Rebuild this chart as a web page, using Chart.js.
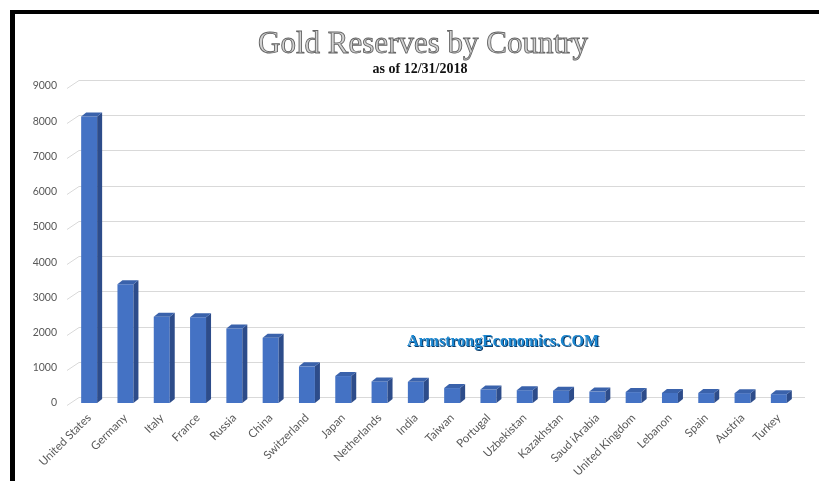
<!DOCTYPE html>
<html>
<head>
<meta charset="utf-8">
<script src="https://cdn.jsdelivr.net/npm/chart.js@4"></script>
<style>
  html, body { margin: 0; padding: 0; background: #fff; }
  #frame {
    position: absolute; left: 10px; top: 10px;
    width: 809px; height: 471px;
    border-top: 4px solid #000; border-left: 5px solid #000;
    background: #fff;
  }
  #canvas { display: block; }
</style>
</head>
<body>
<div id="frame"><canvas id="canvas" width="804" height="467"></canvas></div>
<script>
const countries = ['United States', 'Germany', 'Italy', 'France', 'Russia', 'China', 'Switzerland', 'Japan',
  'Netherlands', 'India', 'Taiwan', 'Portugal', 'Uzbekistan', 'Kazakhstan', 'Saud iArabia',
  'United Kingdom', 'Lebanon', 'Spain', 'Austria', 'Turkey']
const tonnes = [8133, 3370, 2452, 2436, 2113, 1852, 1040, 765, 612, 600, 424, 382, 363, 350, 323, 310, 287, 282, 280, 250]
const yTicks = [0, 1000, 2000, 3000, 4000, 5000, 6000, 7000, 8000, 9000]

const TITLE = 'Gold Reserves by Country'
const SUBTITLE = 'as of 12/31/2018'
const WATERMARK = 'ArmstrongEconomics.COM'

// back wall gridlines with the little diagonal stub on the left (3D look)
const backGrid = {
  id: 'backGrid',
  beforeDatasetsDraw(chart) {
    const ctx = chart.ctx
    const y = chart.scales.y
    const area = chart.chartArea
    ctx.save()
    ctx.strokeStyle = '#d9d9d9'
    ctx.lineWidth = 1
    yTicks.forEach(v => {
      const py = Math.round(y.getPixelForValue(v)) + 0.5
      ctx.beginPath()
      ctx.moveTo(area.left - 4, py + 2)
      ctx.lineTo(area.left + 8, py - 6)
      ctx.lineTo(area.right + 8, py - 6)
      ctx.stroke()
    })
    ctx.restore()
  }
}

// side + top faces for each bar
const bar3d = {
  id: 'bar3d',
  afterDatasetsDraw(chart) {
    const ctx = chart.ctx
    const dx = 5, dy = 4
    const meta = chart.getDatasetMeta(0)
    ctx.save()
    meta.data.forEach(bar => {
      const l = bar.x - bar.width / 2
      const r = bar.x + bar.width / 2
      ctx.fillStyle = '#2d4c8a'
      ctx.beginPath()
      ctx.moveTo(r, bar.y)
      ctx.lineTo(r + dx, bar.y - dy)
      ctx.lineTo(r + dx, bar.base - dy)
      ctx.lineTo(r, bar.base)
      ctx.closePath()
      ctx.fill()
      ctx.fillStyle = '#3a62ab'
      ctx.beginPath()
      ctx.moveTo(l, bar.y)
      ctx.lineTo(l + dx, bar.y - dy)
      ctx.lineTo(r + dx, bar.y - dy)
      ctx.lineTo(r, bar.y)
      ctx.closePath()
      ctx.fill()
    })
    ctx.restore()
  }
}

// titles and watermark text
const texts = {
  id: 'texts',
  afterDraw(chart) {
    const ctx = chart.ctx
    ctx.save()
    ctx.textAlign = 'center'
    ctx.textBaseline = 'alphabetic'
    ctx.font = '31px "Liberation Serif", serif'
    ctx.fillStyle = '#d2d2d2'
    ctx.strokeStyle = '#666'
    ctx.lineWidth = 0.9
    ctx.fillText(TITLE, 408, 39)
    ctx.strokeText(TITLE, 408, 39)

    ctx.font = 'bold 14px "Liberation Serif", serif'
    ctx.fillStyle = '#111'
    ctx.fillText(SUBTITLE, 405, 59)

    ctx.font = 'bold 16px "Liberation Serif", serif'
    ctx.fillStyle = '#0b3a66'
    ctx.fillText(WATERMARK, 489, 333)
    ctx.fillStyle = '#1a86d0'
    ctx.fillText(WATERMARK, 488, 332)
    ctx.restore()
  }
}

new Chart(document.getElementById('canvas'), {
  type: 'bar',
  data: {
    labels: countries,
    datasets: [{
      data: tonnes,
      backgroundColor: '#4472c4',
      borderWidth: 0,
      barPercentage: 0.44,
      categoryPercentage: 1
    }]
  },
  options: {
    responsive: false,
    animation: false,
    layout: { padding: { top: 72, right: 22, bottom: 0, left: 0 } },
    plugins: { legend: { display: false }, tooltip: { enabled: false } },
    scales: {
      x: {
        grid: { display: false, drawTicks: false },
        border: { display: false },
        ticks: {
          color: '#595959',
          font: { family: 'Lato', size: 11.5 },
          minRotation: 45, maxRotation: 45,
          padding: 8,
          autoSkip: false
        },
        afterFit(s) { s.height = 78 }
      },
      y: {
        min: 0, max: 9000,
        grid: { display: false, drawTicks: false },
        border: { display: false },
        ticks: {
          stepSize: 1000,
          color: '#595959',
          font: { family: 'Lato', size: 10.5 },
          padding: 14,
          callback: v => String(v)
        },
        afterFit(s) { s.width = 56 }
      }
    }
  },
  plugins: [backGrid, bar3d, texts]
})
</script>
</body>
</html>
